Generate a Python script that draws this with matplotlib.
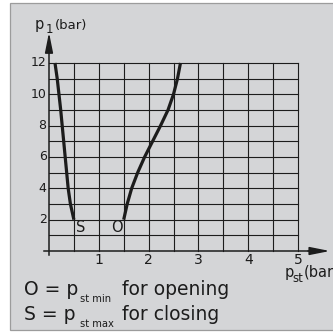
import matplotlib.pyplot as plt
from matplotlib.patches import Rectangle
from matplotlib.transforms import Affine2D

# switching pressure curves, p1 over pst (bar)
p1 = [12, 11, 10, 9, 8, 7, 6, 5, 4, 3, 2]
pst_closing = [0.12, 0.165, 0.20, 0.235, 0.265, 0.295, 0.325, 0.355, 0.385, 0.43, 0.50]   # S
pst_opening = [2.64, 2.58, 2.50, 2.39, 2.24, 2.08, 1.92, 1.78, 1.66, 1.57, 1.50]          # O

x_ticks = [1, 2, 3, 4, 5]
y_ticks = [2, 4, 6, 8, 10, 12]
x_grid = [0.5, 1, 1.5, 2, 2.5, 3, 3.5, 4, 4.5, 5]
y_grid = list(range(1, 13))

W, H = 333, 334
fig = plt.figure(figsize=(W / 100, H / 100), dpi=100)
fig.patch.set_facecolor('white')

ax = fig.add_axes([0, 0, 1, 1])
ax.axis('off')
x0, sx = 49, 49.8
y0, sy = 251, 15.67
ax.set_xlim(-x0 / sx, (W - x0) / sx)
ax.set_ylim(-(H - y0) / sy, y0 / sy)

# pixel coords from top-left, for the panel and the text blocks
tpx = Affine2D().scale(1, -1).translate(0, H)

# grey panel behind everything
ax.add_patch(Rectangle((9.5, 2.5), 340, 327.5, transform=tpx, clip_on=False,
                       facecolor='#d4d5d7', edgecolor='#9c9c9c', lw=0.9, zorder=0))

ink = '#1c1c1c'
for xv in x_grid:
    ax.plot([xv, xv], [0, 12], color=ink, lw=0.8)
for yv in y_grid:
    ax.plot([0, 5], [yv, yv], color=ink, lw=0.8)

# axes with arrow heads
ax.plot([-0.1, 5.3], [0, 0], color=ink, lw=1.1)
ax.plot([0, 0], [-0.25, 13.0], color=ink, lw=1.1)
ax.annotate('', xy=(5.64, 0), xytext=(5.2, 0),
            arrowprops=dict(arrowstyle='-|>,head_length=1.1,head_width=0.22',
                            mutation_scale=11, color=ink, lw=1.1, shrinkA=0, shrinkB=0))
ax.annotate('', xy=(0, 13.95), xytext=(0, 12.8),
            arrowprops=dict(arrowstyle='-|>,head_length=1.1,head_width=0.22',
                            mutation_scale=11, color=ink, lw=1.1, shrinkA=0, shrinkB=0))

# curves
ax.plot(pst_closing, p1, color=ink, lw=2.3, solid_capstyle='butt', solid_joinstyle='round')
ax.plot(pst_opening, p1, color=ink, lw=2.3, solid_capstyle='butt', solid_joinstyle='round')

for yv in y_ticks:
    ax.text(-0.05, yv, str(yv), ha='right', va='center', fontsize=9, color=ink)
for xv in x_ticks:
    ax.text(xv, -0.55, str(xv), ha='center', va='center', fontsize=10, color=ink)

ax.text(pst_closing[-1] + 0.14, 1.2, 'S', ha='center', va='baseline', fontsize=10.5, color=ink)
ax.text(pst_opening[-1] - 0.13, 1.2, 'O', ha='center', va='baseline', fontsize=10.5, color=ink)

# axis titles
ax.text(34.5, 29.5, 'p', transform=tpx, fontsize=10.5, color=ink, va='baseline')
ax.text(46, 32.7, '1', transform=tpx, fontsize=8.5, color=ink, va='baseline')
ax.text(55, 29.5, '(bar)', transform=tpx, fontsize=9.5, color=ink, va='baseline')

ax.text(284.5, 276.5, 'p', transform=tpx, fontsize=10.5, color=ink, va='baseline')
ax.text(292, 281.7, 'st', transform=tpx, fontsize=8.5, color=ink, va='baseline')
ax.text(304, 276.5, '(bar)', transform=tpx, fontsize=10.5, color=ink, va='baseline')

# legend lines
for base, letter, sub, rest in [(295, 'O', 'st min', 'for opening'),
                                (320, 'S', 'st max', 'for closing')]:
    ax.text(24, base, letter + ' = p', transform=tpx, fontsize=13.5, color=ink, va='baseline')
    ax.text(79.5, base + 7, sub, transform=tpx, fontsize=7.2, color=ink, va='baseline')
    ax.text(122, base, rest, transform=tpx, fontsize=13.5, color=ink, va='baseline')

fig.savefig('out.png', dpi=100)
